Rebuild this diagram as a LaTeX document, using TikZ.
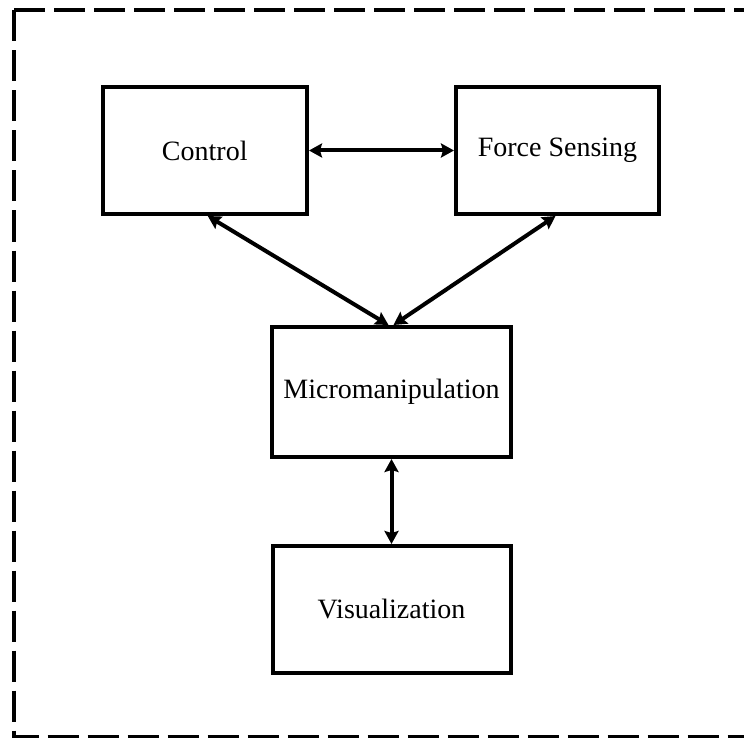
\documentclass[tikz,border=0pt]{standalone}
\usepackage{fontspec}
\setmainfont{Liberation Serif}
\usetikzlibrary{arrows.meta}
\tikzset{
  blockbox/.style={draw=black, line width=4pt, inner sep=0pt, fill=white,
    font=\fontsize{28}{33}\selectfont},
  link/.style={line width=4pt, {Stealth[length=13pt,width=14pt,inset=2pt]}-{Stealth[length=13pt,width=14pt,inset=2pt]}},
  frame/.style={draw=black, line width=4pt, dash pattern=on 31pt off 9pt}
}
\begin{document}
\begin{tikzpicture}[x=1pt,y=-1pt]
\useasboundingbox (0,0) rectangle (744,738);
\fill[white] (0,0) rectangle (744,738);
\draw[frame] (14,10.5) -- (748,10.5) (14,10.5) -- (14,737) -- (748,737);
\node[blockbox, minimum width=204.5pt, minimum height=127pt] (c) at (204.75,150.5) {Control};
\node[blockbox, minimum width=203pt, minimum height=127pt] (f) at (557.5,150.5) {Force Sensing};
\node[blockbox, minimum width=239pt, minimum height=130pt] (m) at (391.5,392) {Micromanipulation};
\node[blockbox, minimum width=238pt, minimum height=126.5pt] (v) at (391.5,609.25) {Visualization};
\draw[link] (c.east) -- (f.west);
\draw[link] ([xshift=3pt]c.south) -- ([xshift=-3pt]m.north);
\draw[link] ([xshift=-2pt]f.south) -- ([xshift=2pt]m.north);
\draw[link] (m.south) -- (v.north);
\end{tikzpicture}
\end{document}
